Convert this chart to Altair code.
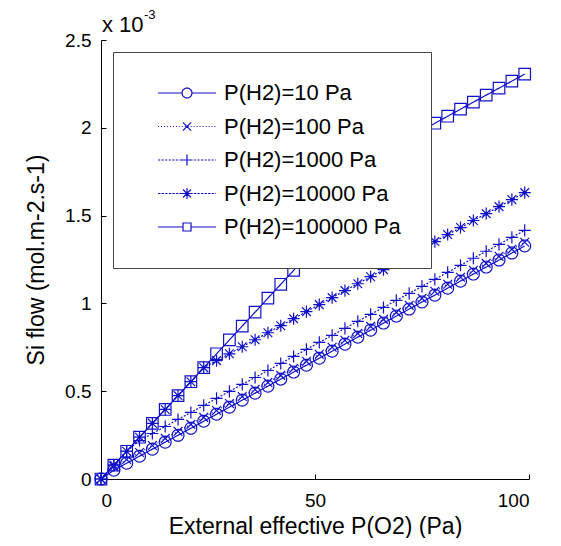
import math
import altair as alt
import pandas as pd

# ---------------- data (flow in units of 1e-3) ----------------
x_vals = [0, 3, 6, 9, 12, 15, 18, 21, 24, 27, 30, 33, 36, 39, 42, 45, 48,
          51, 54, 57, 60, 63, 66, 69, 72, 75, 78, 81, 84, 87, 90, 93, 96, 99]

series = ["P(H2)=10 Pa", "P(H2)=100 Pa", "P(H2)=1000 Pa",
          "P(H2)=10000 Pa", "P(H2)=100000 Pa"]

flow_10 = [0, 0.050, 0.090, 0.130, 0.170, 0.210, 0.249, 0.289, 0.329, 0.369,
           0.409, 0.449, 0.489, 0.529, 0.569, 0.609, 0.648, 0.688, 0.728, 0.768,
           0.808, 0.848, 0.888, 0.928, 0.968, 1.008, 1.047, 1.087, 1.127, 1.167,
           1.207, 1.247, 1.287, 1.327]
flow_100 = [0, 0.071, 0.111, 0.151, 0.191, 0.231, 0.271, 0.311, 0.351, 0.390,
            0.430, 0.470, 0.510, 0.550, 0.590, 0.630, 0.670, 0.710, 0.750, 0.790,
            0.829, 0.869, 0.909, 0.949, 0.989, 1.029, 1.069, 1.109, 1.149, 1.189,
            1.228, 1.268, 1.308, 1.348]
flow_1000 = [0, 0.079, 0.158, 0.219, 0.259, 0.299, 0.339, 0.379, 0.419, 0.459,
             0.499, 0.539, 0.578, 0.618, 0.658, 0.698, 0.738, 0.778, 0.818, 0.858,
             0.898, 0.938, 0.977, 1.017, 1.057, 1.097, 1.137, 1.177, 1.217, 1.257,
             1.297, 1.336, 1.376, 1.416]
flow_10000 = [0, 0.079, 0.158, 0.238, 0.317, 0.396, 0.475, 0.554, 0.634, 0.674,
              0.713, 0.753, 0.793, 0.833, 0.873, 0.913, 0.953, 0.993, 1.033, 1.073,
              1.112, 1.152, 1.192, 1.232, 1.272, 1.312, 1.352, 1.392, 1.432, 1.472,
              1.511, 1.551, 1.591, 1.631]
flow_100000 = [0, 0.079, 0.158, 0.238, 0.317, 0.396, 0.475, 0.554, 0.634, 0.713,
               0.792, 0.871, 0.950, 1.030, 1.109, 1.188, 1.267, 1.346, 1.426, 1.505,
               1.584, 1.663, 1.742, 1.822, 1.901, 1.980, 2.026, 2.066, 2.106, 2.146,
               2.186, 2.226, 2.266, 2.306]

y_ticks = [0, 0.5, 1, 1.5, 2, 2.5]
x_ticks = [0, 50, 100]

rows = []
for name, ys in zip(series, [flow_10, flow_100, flow_1000, flow_10000, flow_100000]):
    for xv, yv in zip(x_vals, ys):
        rows.append({"pO2": xv, "flow": yv, "series": name})
df = pd.DataFrame(rows)

# ---------------- styles ----------------
BLUE = "#1010c8"
FONT = "Liberation Sans"
W, H = 428, 439


def f(v):
    return f"{v:.3f}"


def circle_path(r, n=28):
    pts = [(r * math.cos(2 * math.pi * i / n), r * math.sin(2 * math.pi * i / n)) for i in range(n)]
    return "M" + "L".join(f"{f(a)},{f(b)}" for a, b in pts) + "Z"


def square_path(h):
    return f"M{-h},{-h}L{h},{-h}L{h},{h}L{-h},{h}Z"


def x_path(h):
    return f"M{-h},{-h}L{h},{h}M{-h},{h}L{h},{-h}"


def plus_path(h):
    return f"M{-h},0L{h},0M0,{-h}L0,{h}"


def star_path(h):
    return plus_path(h) + x_path(h * 0.72)


def dashed(x0, x1, d, g):
    out = []
    x = x0
    while x < x1:
        e = min(x + d, x1)
        out.append(f"M{f(x)},0L{f(e)},0")
        x = e + g
    return "".join(out)


# data markers (unit = sqrt(121)/2 = 5.5 px)
data_shapes = [circle_path(1.08), x_path(0.8), plus_path(1.1), star_path(1.1), square_path(1.05)]

# legend symbols: line + marker
L = 5.27
legend_shapes = [
    f"M{-L},0L-0.9,0M0.9,0L{L},0" + circle_path(0.9),
    dashed(-L, L, 0.18, 0.36) + x_path(0.75),
    dashed(-L, L, 0.4, 0.25) + plus_path(1.0),
    dashed(-L, L, 0.45, 0.2) + star_path(1.0),
    f"M{-L},0L-0.73,0M0.73,0L{L},0" + square_path(0.73),
]

dash_range = [[1, 0], [1, 2.5], [2, 1.5], [2, 1.5], [1, 0]]

x_scale = alt.Scale(domain=[0, 100], nice=False, zero=False)
y_scale = alt.Scale(domain=[0, 2.5], nice=False, zero=False)

base = alt.Chart(df)

lines = base.mark_line(color=BLUE, strokeWidth=1.2, opacity=1).encode(
    x=alt.X("pO2:Q", scale=x_scale,
            axis=alt.Axis(orient="bottom", values=x_ticks, ticks=False, grid=False,
                          title="External effective P(O2) (Pa)", labelPadding=12,
                          titlePadding=5, format="d")),
    y=alt.Y("flow:Q", scale=y_scale,
            axis=alt.Axis(orient="left", values=y_ticks, ticks=False, grid=False,
                          title="Si flow (mol.m-2.s-1)", labelPadding=10,
                          titlePadding=16, format="~g")),
    strokeDash=alt.StrokeDash("series:N", scale=alt.Scale(domain=series, range=dash_range),
                              legend=None),
    detail="series:N",
)

points = base.mark_point(filled=False, color=BLUE, strokeWidth=1.2, size=121, opacity=1).encode(
    x=alt.X("pO2:Q", scale=x_scale,
            axis=alt.Axis(orient="top", offset=-H, values=x_ticks, labels=False, domain=False,
                          ticks=True, tickSize=5, tickColor="black", grid=False, title=None)),
    y=alt.Y("flow:Q", scale=y_scale,
            axis=alt.Axis(orient="right", offset=-W, values=y_ticks, labels=False, domain=False,
                          ticks=True, tickSize=5, tickColor="black", grid=False, title=None)),
    shape=alt.Shape("series:N", scale=alt.Scale(domain=series, range=data_shapes), legend=None),
)

legend_layer = base.mark_point(filled=False, color=BLUE, strokeWidth=1.2, size=121, opacity=1).encode(
    x=alt.X("pO2:Q", scale=x_scale, axis=None),
    y=alt.Y("flow:Q", scale=y_scale, axis=None),
    shape=alt.Shape("series:N", scale=alt.Scale(domain=series, range=legend_shapes),
                    legend=alt.Legend(orient="none", legendX=12, legendY=12, title=None,
                                      fillColor="white", strokeColor="#444444",
                                      padding=30, symbolSize=121, symbolOffset=33,
                                      labelOffset=26, rowPadding=11.5,
                                      symbolStrokeColor=BLUE, symbolStrokeWidth=1.2,
                                      symbolFillColor="transparent", symbolOpacity=1,
                                      labelFont=FONT, labelFontSize=22,
                                      labelColor="black", labelLimit=400)),
).transform_filter("false")

mult = alt.Chart(pd.DataFrame({"t": ["x 10"]})).mark_text(
    align="left", baseline="alphabetic", font=FONT, fontSize=22, color="black"
).encode(x=alt.value(1), y=alt.value(-8), text="t:N")

expo = alt.Chart(pd.DataFrame({"t": ["-3"]})).mark_text(
    align="left", baseline="alphabetic", font=FONT, fontSize=13, color="black"
).encode(x=alt.value(43), y=alt.value(-21), text="t:N")

chart = alt.layer(lines, points, legend_layer, mult, expo).resolve_scale(
    shape="independent"
).resolve_axis(x="independent", y="independent").properties(
    width=W, height=H,
    autosize=alt.AutoSizeParams(type="none"),
    padding={"left": 93, "top": 32, "right": 24, "bottom": 59},
).configure_view(stroke=None).configure_axis(
    domainColor="black", domainWidth=1, labelColor="black", titleColor="black",
    labelFont=FONT, titleFont=FONT, labelFontSize=19, titleFontSize=23,
    titleFontWeight="normal",
)

chart.save("out.html", embed_options={"renderer": "svg", "actions": False})
